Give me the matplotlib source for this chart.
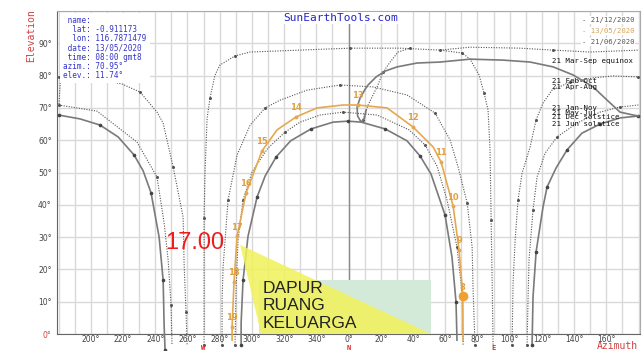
import numpy as np
import matplotlib
matplotlib.use("Agg")
import matplotlib.pyplot as p
from matplotlib.patches import Polygon, Rectangle
from matplotlib.transforms import blended_transform_factory

# sun path, lat -0.911173 lon 116.7871479 (azimuth in degrees, elevation in degrees)
DEC_W_AZ = [180.0, 193.3, 205.7, 217.0, 226.9, 232.5, 237.4, 242.4, 244.9, 245.5, 246.1]
DEC_W_EL = [67.8, 66.6, 64.7, 61.0, 55.4, 50.5, 43.7, 30.0, 16.7, 2.8, -5.0]
DEC_E_AZ = [113.9, 114.5, 116.4, 120.7, 123.2, 128.8, 135.6, 144.9, 156.1, 168.5, 179.9]
DEC_E_EL = [-3.4, 11.5, 25.4, 39.3, 45.5, 51.4, 57.0, 62.2, 65.0, 66.9, 67.5]

JUN_AZ = [293.3, 293.3, 294.5, 297.6, 303.2, 308.2, 315.0, 324.0, 336.7, 350.4, 359.7,
          7.8, 22.7, 36.3, 44.4, 51.2, 59.9, 64.2, 66.7, 67.3]
JUN_EL = [-3.4, 3.4, 16.7, 30.3, 42.4, 48.9, 54.8, 59.8, 63.5, 65.6, 65.9,
          65.6, 63.5, 59.8, 55.1, 49.5, 36.8, 23.8, 9.9, -1.9]

MAY13_AZ = [287.7, 287.7, 288.9, 290.8, 296.4, 306.3, 315.6, 327.4, 340.4, 356.6,
            5.9, 23.9, 40.0, 52.5, 57.4, 64.9, 68.6, 70.95, 71.0, 71.1]
MAY13_EL = [-1.9, 2.2, 16.1, 30.3, 43.7, 56.7, 63.2, 67.2, 70.0, 70.9,
            70.9, 70.0, 64.1, 57.9, 53.3, 39.6, 26.0, 11.74, 1.2, -1.9]
HOUR_LABELS = ["19", "18", "17", "16", "15", "14", "13", "12", "11", "10", "9", "8"]
HOUR_AZ = [287.7, 288.9, 290.8, 296.4, 306.3, 327.4, 5.9, 40.0, 57.4, 64.9, 68.6, 70.95]
HOUR_EL = [2.2, 16.1, 30.3, 43.7, 56.7, 67.2, 70.9, 64.1, 53.3, 39.6, 26.0, 11.74]
NOW_AZ, NOW_EL = 70.95, 11.74

# 21st of each month
JANNOV_W_AZ = [180.0, 203.9, 228.7, 241.1, 245.5, 248.0, 249.8, 250.4]
JANNOV_W_EL = [70.9, 69.0, 59.4, 48.6, 34.4, 22.9, 9.0, -3.4]
JANNOV_E_AZ = [110.8, 111.4, 112.0, 114.5, 117.0, 122.0, 129.4, 141.8, 156.1, 168.5, 179.9]
JANNOV_E_EL = [-3.4, 10.5, 22.9, 38.4, 48.6, 56.0, 61.0, 65.3, 68.7, 70.3, 70.9]

FEBOCT_W_AZ = [180.0, 201.4, 219.4, 230.6, 241.1, 244.9, 251.1, 257.3, 257.9, 259.1, 259.8]
FEBOCT_W_EL = [79.6, 79.3, 77.4, 74.9, 68.7, 65.3, 51.7, 36.2, 22.0, 6.8, -3.4]
FEBOCT_E_AZ = [101.5, 102.1, 103.4, 105.2, 107.7, 112.7, 116.4, 120.7, 126.3, 137.5, 151.8, 164.2, 179.9]
FEBOCT_E_EL = [-3.4, 15.8, 29.1, 41.5, 49.8, 57.9, 66.3, 71.5, 75.5, 78.0, 79.3, 79.9, 79.6]

EQUINOX_AZ = [270.3, 270.3, 270.3, 270.3, 270.9, 272.2, 274.0, 277.1, 280.2, 289.5, 298.9,
              329.9, 0.9, 32.0, 56.8, 70.5, 75.4, 81.0, 84.1, 86.6, 87.8, 88.5, 89.1, 89.7]
EQUINOX_EL = [-3.4, 5.9, 20.4, 35.9, 50.2, 66.9, 73.1, 80.2, 83.3, 86.1, 87.3,
              87.9, 88.5, 88.5, 87.9, 87.0, 85.1, 80.2, 74.6, 69.3, 57.0, 35.3, 16.7, -3.4]
EQUINOX_S_AZ = [56.8, 75.4, 106.4, 126.9, 149.9, 179.9]
EQUINOX_S_EL = [87.9, 88.8, 88.5, 87.9, 87.3, 87.9]

APRAUG_AZ = [281.5, 281.5, 282.1, 285.2, 290.8, 298.9, 308.2, 317.5, 334.2, 354.7,
             15.2, 36.3, 53.7, 63.0, 68.0, 73.6, 76.7, 77.3, 78.5]
APRAUG_EL = [-3.4, 10.5, 20.7, 41.5, 55.4, 64.7, 70.0, 72.4, 75.5, 77.1,
             76.5, 74.0, 68.4, 60.1, 51.7, 40.6, 26.9, 13.6, -3.4]

MAYJUL_AZ = [289.5, 290.2, 291.4, 294.5, 300.1, 310.0, 320.6, 329.9, 342.3, 356.6,
             17.7, 37.6, 47.5, 54.9, 61.1, 67.3, 70.5, 71.1]
MAYJUL_EL = [-3.4, 14.6, 29.1, 41.5, 50.2, 57.6, 62.5, 65.6, 67.8, 68.7,
             67.8, 63.2, 58.5, 52.0, 41.5, 26.9, 12.7, -3.4]

# analemma near midday
NOON_AZ = [10.8, 9.9, 7.8, 5.6, 5.3, 7.2, 10.3, 12.1, 17.1, 22.7, 30.1, 42.5, 56.8, 75.4,
           95.9, 112.7, 127.0, 139.4, 151.8, 160.5, 168.5, 176.6, 179.9]
NOON_EL = [69.3, 66.9, 65.6, 67.5, 70.3, 73.1, 75.8, 77.1, 79.6, 81.4, 82.7, 83.9, 84.2, 85.1,
           84.8, 84.2, 82.7, 80.2, 76.5, 72.4, 68.7, 67.8, 67.5]
NOON2_AZ = [9.0, 12.1, 17.7, 21.4, 25.8, 30.7, 38.2]
NOON2_EL = [66.3, 70.9, 76.5, 81.1, 84.2, 87.3, 88.5]
SOUTH_AZ = [181.5, 180.8, 180.2]
SOUTH_EL = [81.0, 76.0, 70.9]

MONTH_LABELS = ["21 Mar-Sep equinox", "21 Feb-Oct", "21 Apr-Aug", "21 Jan-Nov",
                "21 May-Jul", "21 Dec solstice", "21 Jun solstice"]
MONTH_LABEL_EL = [84.5, 78.3, 76.5, 70.0, 68.4, 67.2, 65.0]

INFO_LINES = [" name:", "  lat: -0.911173", "  lon: 116.7871479", " date: 13/05/2020",
              " time: 08:00 gmt8", "azim.: 70.95°", "elev.: 11.74°"]
LEGEND = [("- 21/12/2020", "#555555"), ("- 13/05/2020", "#d9a050"), ("- 21/06/2020", "#555555")]

ROOM_AZ = (304.4, 411.2)
ROOM_EL = 16.7
SHADE_AZ = [292.7, 305.7, 411.2]
SHADE_EL = [27.6, 0.0, 0.0]

GRAY = "#7a7a7a"
DOT = "#555555"
ORANGE = "#e6a84e"
RED = "#dd2222"
BLUE = "#3535c8"
MONO = "DejaVu Sans Mono"


def unwrap(az):
    az = np.asarray(az, dtype=float)
    return np.where(az < 180, az + 360, az)


def create_plot():
    fig = p.figure(figsize=(6.44, 3.51), dpi=100)
    ax = fig.add_axes([57.3 / 644, 17 / 351, 582.7 / 644, 323.3 / 351])
    ax.set_xlim(179.2, 540.9)
    ax.set_ylim(0, 100.1)

    xt = list(range(180, 541, 10))
    ax.set_xticks(xt)
    ax.set_xticklabels([f"{v % 360}°" if v % 20 == 0 and 200 <= v <= 520 else "" for v in xt])
    yt = list(range(0, 101, 10))
    ax.set_yticks(yt)
    ax.set_yticklabels([f"{v}°" if v < 100 else "" for v in yt])
    ax.tick_params(length=0, labelsize=5.5, labelcolor="#444444")
    ax.tick_params(axis="x", pad=1)
    ax.tick_params(axis="y", pad=4)
    ax.get_yticklabels()[0].set_color("#cc4444")
    ax.grid(color="#d9d9d9", lw=1.0)
    ax.set_axisbelow(True)
    ax.axvline(360, color="#8a8a8a", lw=1.0, zorder=1)
    for side in ("left", "bottom"):
        ax.spines[side].set_color("#666666")
    for side in ("top", "right"):
        ax.spines[side].set_color("#aaaaaa")

    dotted = [(JANNOV_W_AZ, JANNOV_W_EL), (JANNOV_E_AZ, JANNOV_E_EL),
              (FEBOCT_W_AZ, FEBOCT_W_EL), (FEBOCT_E_AZ, FEBOCT_E_EL),
              (EQUINOX_AZ, EQUINOX_EL), (EQUINOX_S_AZ, EQUINOX_S_EL),
              (APRAUG_AZ, APRAUG_EL), (MAYJUL_AZ, MAYJUL_EL),
              (NOON2_AZ, NOON2_EL), (SOUTH_AZ, SOUTH_EL)]
    for az, el in dotted:
        ax.plot(unwrap(az), el, ls=(0, (1, 1.3)), lw=0.8, color=DOT,
                marker="o", ms=1.2, markevery=3, clip_on=False, zorder=3)

    for az, el in [(DEC_W_AZ, DEC_W_EL), (DEC_E_AZ, DEC_E_EL), (JUN_AZ, JUN_EL)]:
        ax.plot(unwrap(az), el, color=GRAY, lw=1.2, marker="o", ms=1.6,
                markevery=2, mfc="#444444", mec="#444444", clip_on=False, zorder=3)
    ax.plot(unwrap(NOON_AZ), NOON_EL, color=GRAY, lw=1.2, zorder=3)

    ax.plot(unwrap(MAY13_AZ), MAY13_EL, color=ORANGE, lw=1.2, clip_on=False, zorder=4)
    ax.plot(unwrap(HOUR_AZ), HOUR_EL, "o", color=ORANGE, ms=1.8, zorder=4, clip_on=False)
    for lbl, az, el in zip(HOUR_LABELS, unwrap(HOUR_AZ), HOUR_EL):
        ax.annotate(lbl, (az, el), xytext=(0, 6.5), textcoords="offset points",
                    ha="center", va="center", fontsize=6, fontweight="bold",
                    color="#e0a040", zorder=5)
    ax.plot(unwrap([NOW_AZ]), [NOW_EL], "o", color="#f0a030", ms=6, zorder=5)

    for lbl, el in zip(MONTH_LABELS, MONTH_LABEL_EL):
        ax.text(486.3, el, lbl, fontsize=5.3, family=MONO, color="#111111",
                ha="left", va="center", zorder=6)

    # room overlay
    ax.add_patch(Rectangle((ROOM_AZ[0], 0), ROOM_AZ[1] - ROOM_AZ[0], ROOM_EL,
                           facecolor="#d3ead8", edgecolor="none", zorder=7))
    ax.add_patch(Polygon(np.column_stack([SHADE_AZ, SHADE_EL]), closed=True,
                         facecolor="#f2f25a", edgecolor="none", alpha=0.85, zorder=8))
    ax.text(306.9, 16.4, "DAPUR\nRUANG\nKELUARGA", fontsize=12.5, family="Liberation Sans",
            color="#222222", ha="left", va="top", linespacing=1.2, zorder=9)
    ax.text(264.7, 28.2, "17.00", fontsize=17, family="Liberation Sans", color="#ee1c1c",
            ha="center", va="center", zorder=9)

    trans = blended_transform_factory(ax.transData, ax.transAxes)
    for lbl, az in [("W", 270), ("N", 360), ("E", 450)]:
        ax.text(az, -0.042, lbl, transform=trans, fontsize=5, fontweight="bold",
                family=MONO, color=RED, ha="center", va="center")

    fig.text(617 / 644, 1 - 346 / 351, "Azimuth", fontsize=7, family=MONO,
             color="#d04040", ha="center", va="center")
    fig.text(31 / 644, 1 - 36 / 351, "Elevation", fontsize=7, family=MONO,
             color="#d04040", ha="center", va="center", rotation=90)

    fig.text(63 / 644, 1 - 16 / 351, "\n".join(INFO_LINES), fontsize=5.5, family=MONO,
             color=BLUE, ha="left", va="top", linespacing=1.02,
             bbox=dict(facecolor="white", edgecolor="none", pad=2.5), zorder=10)
    fig.text(341 / 644, 1 - 18 / 351, "SunEarthTools.com", fontsize=8, family=MONO,
             color="#2424c8", ha="center", va="center",
             bbox=dict(facecolor="white", edgecolor="none", pad=1), zorder=10)
    for i, (lbl, col) in enumerate(LEGEND):
        fig.text(582 / 644, 1 - (20 + 11 * i) / 351, lbl, fontsize=5.2, family=MONO,
                 color=col, ha="left", va="center",
                 bbox=dict(facecolor="white", edgecolor="none", pad=0.5), zorder=10)

    fig.savefig("out.png", dpi=100)


def main():
    create_plot()


if __name__ == "__main__":
    main()
